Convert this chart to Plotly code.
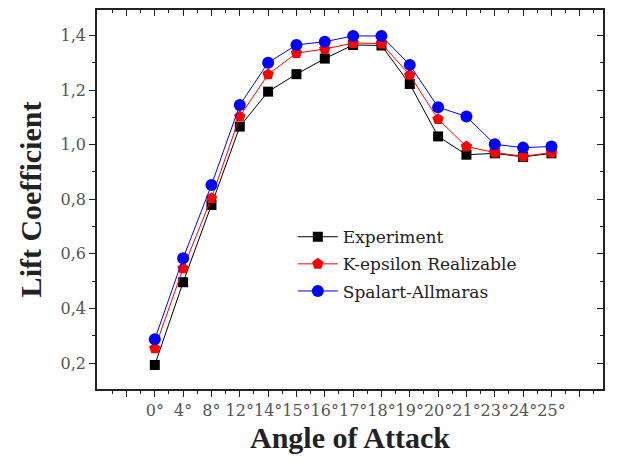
import plotly.graph_objects as go

angles = ["0°", "4°", "8°", "12°", "14°", "15°", "16°", "17°", "18°", "19°", "20°", "21°", "23°", "24°", "25°"]
experiment = [0.193, 0.496, 0.779, 1.066, 1.194, 1.258, 1.315, 1.365, 1.363, 1.222, 1.030, 0.963, 0.968, 0.955, 0.968]
k_epsilon = [0.254, 0.547, 0.804, 1.103, 1.257, 1.335, 1.350, 1.372, 1.370, 1.255, 1.093, 0.993, 0.971, 0.957, 0.971]
spalart = [0.287, 0.584, 0.852, 1.145, 1.300, 1.365, 1.377, 1.398, 1.398, 1.292, 1.137, 1.103, 1.001, 0.989, 0.993]

idx = list(range(len(angles)))
serif = "Liberation Serif"
regserif = "DejaVu Serif"

fig = go.Figure()
series = [
    ("Experiment", experiment, "black", "square", 10),
    ("K-epsilon Realizable", k_epsilon, "red", "pentagon", 12),
    ("Spalart-Allmaras", spalart, "blue", "circle", 12),
]
for name, vals, col, sym, sz in series:
    fig.add_trace(go.Scatter(
        x=idx, y=vals, name=name, mode="lines+markers", legendgroup=name,
        line=dict(color=col, width=1),
        marker=dict(color=col, symbol=sym, size=sz, line=dict(width=0)),
    ))

# invisible trace so the mirrored top/right axes are drawn
fig.add_trace(go.Scatter(x=[None], y=[None], xaxis="x2", yaxis="y2",
                         showlegend=False, hoverinfo="skip", mode="markers"))

major = list(range(-1, len(angles) + 1))
majortext = [""] + angles + [""]
minorvals = [i + 0.5 for i in range(-2, len(angles) + 1)]

xr = [-2.04, 15.82]
yr = [0.105, 1.493]

fig.update_layout(
    template="none",
    width=619, height=465,
    margin=dict(l=97, r=16, t=10, b=76),
    paper_bgcolor="white", plot_bgcolor="white",
    font=dict(family=serif, color="#222"),
    separators=",.",
    showlegend=True,
    legend=dict(x=0.387, y=0.448, xanchor="left", yanchor="top",
                bgcolor="rgba(0,0,0,0)", font=dict(family=regserif, size=17, color="#222"),
                tracegroupgap=2, itemwidth=40),
    xaxis=dict(range=xr, tickmode="array", tickvals=major, ticktext=majortext, tickangle=0,
               showgrid=False, zeroline=False, showline=True, linecolor="#222", linewidth=1.5,
               ticks="outside", ticklen=6, tickwidth=1.2, tickcolor="#222",
               minor=dict(tickmode="array", tickvals=minorvals, ticks="outside", ticklen=3, tickcolor="#222", tickwidth=1, showgrid=False),
               tickfont=dict(family=regserif, size=16, color="#555"),
               title=dict(text="<b>Angle of Attack</b>", font=dict(family=serif, size=30, color="#222"), standoff=8)),
    yaxis=dict(range=yr, tickmode="linear", tick0=0.2, dtick=0.2, tickformat=".1f",
               showgrid=False, zeroline=False, showline=True, linecolor="#222", linewidth=1.5,
               ticks="outside", ticklen=6, tickwidth=1.2, tickcolor="#222",
               minor=dict(tick0=0.1, dtick=0.2, ticks="outside", ticklen=3, tickcolor="#222", tickwidth=1, showgrid=False),
               tickfont=dict(family=regserif, size=16, color="#555"),
               title=dict(text="<b>Lift Coefficient</b>", font=dict(family=serif, size=30, color="#222"), standoff=10)),
    xaxis2=dict(range=xr, overlaying="x", side="top", anchor="y2", tickmode="array", tickvals=major,
                showticklabels=False, showgrid=False, zeroline=False, showline=True, linecolor="#222", linewidth=1.5,
                ticks="inside", ticklen=6, tickwidth=1.2, tickcolor="#222",
                minor=dict(tickmode="array", tickvals=minorvals, ticks="inside", ticklen=3, tickcolor="#222", tickwidth=1)),
    yaxis2=dict(range=yr, overlaying="y", side="right", anchor="x2", tickmode="linear", tick0=0.2, dtick=0.2,
                showticklabels=False, showgrid=False, zeroline=False, showline=True, linecolor="#222", linewidth=1.5,
                ticks="inside", ticklen=6, tickwidth=1.2, tickcolor="#222",
                minor=dict(tick0=0.1, dtick=0.2, ticks="inside", ticklen=3, tickcolor="#222", tickwidth=1)),
)

fig.write_html("out.html")
